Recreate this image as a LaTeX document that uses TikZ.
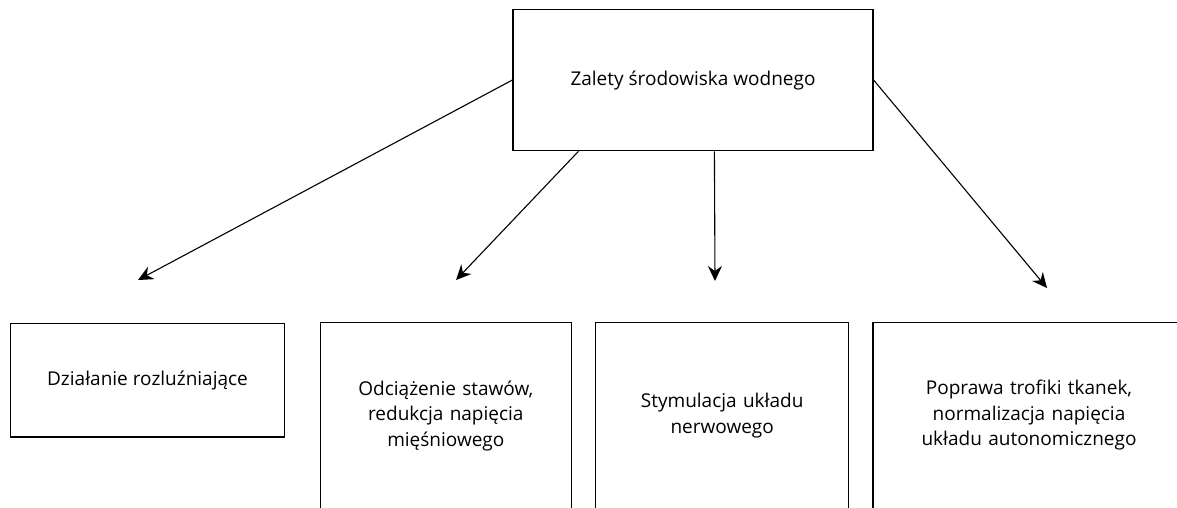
\documentclass[tikz,border=0pt]{standalone}
\usepackage{fontspec}
\setmainfont{Open Sans}
\usetikzlibrary{arrows.meta}
\begin{document}
\begin{tikzpicture}[x=1pt,y=-1pt,
  box/.style={draw=black,line width=1.2pt,fill=white,inner sep=0pt,align=center,
    font=\fontsize{19}{25.5}\selectfont},
  conn/.style={line width=1.1pt,-{Stealth[length=15pt,width=14pt,inset=5pt]}}]
\useasboundingbox (0,0) rectangle (1177,507);
\clip (0,0) rectangle (1177,507);
\fill[white] (0,0) rectangle (1177,507);
\node[box,minimum width=360pt,minimum height=141.5pt] (top) at (693,80) {Zalety środowiska wodnego};
\node[box,minimum width=273.6pt,minimum height=113.8pt] (b1) at (147.5,380) {Działanie rozluźniające};
\node[box,minimum width=251pt,minimum height=186pt,text width=240pt] (b2) at (445.8,415.5) {Odciążenie stawów,\\redukcja napięcia\\mięśniowego};
\node[box,minimum width=253pt,minimum height=186pt,text width=240pt] (b3) at (722.2,415.5) {Stymulacja układu\\nerwowego};
\node[box,minimum width=312pt,minimum height=186pt,text width=290pt] (b4) at (1029,415.5) {Poprawa trofiki tkanek,\\normalizacja napięcia\\układu autonomicznego};
\coordinate (e1) at (138,280);
\coordinate (e2) at (456,280);
\coordinate (e3) at (715,281);
\coordinate (e4) at (1047,288);
\draw[conn] (top.west) -- (e1);
\draw[conn] ([xshift=66pt]top.south west) -- (e2);
\draw[conn] ([xshift=202pt]top.south west) -- (e3);
\draw[conn] (top.east) -- (e4);
\end{tikzpicture}
\end{document}
